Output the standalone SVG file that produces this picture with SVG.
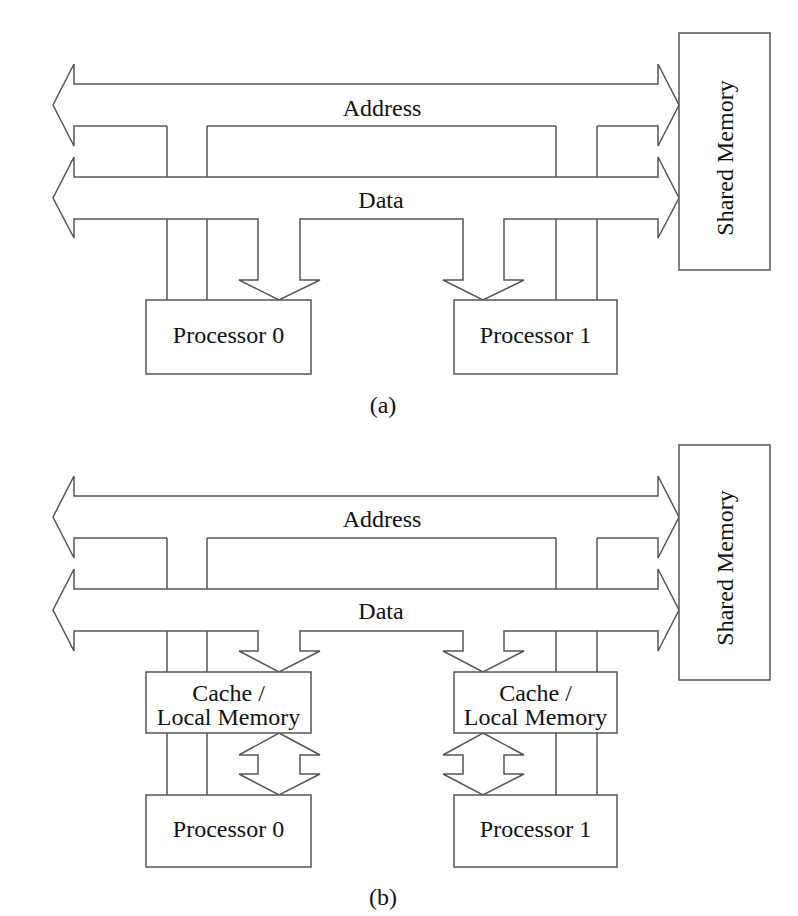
<svg xmlns="http://www.w3.org/2000/svg" width="798" height="916" viewBox="0 0 798 916">
<style>
.ln{fill:none;stroke:#555;stroke-width:1.5;stroke-linejoin:miter}
.bx{fill:#fff;stroke:#555;stroke-width:1.5}
.t{font-family:"Liberation Serif","Times New Roman",serif;font-size:24px;fill:#111;text-anchor:middle}
</style>
<rect width="798" height="916" fill="#fff"/>
<g id="connectors">
<!-- (a) address bus -->
<path class="ln" d="M167,126 L74,126 L74,146 L53,105 L74,64 L74,84 L658,84 L658,64 L679,105 L658,146 L658,126 L597,126 M556,126 L207,126"/>
<!-- (a) data bus -->
<path class="ln" d="M258,219 L74,219 L74,238 L53,198 L74,157 L74,177 L658,177 L658,157 L679,198 L658,238 L658,219 L504,219 L504,280 L524,280 L483,300 L443,280 L463,280 L463,219 L300,219 L300,280 L320,280 L279,300 L239,280 L258,280 Z"/>
<!-- (a) stems -->
<path class="ln" d="M167,126 V177 M207,126 V177 M556,126 V177 M597,126 V177 M167,219 V300 M207,219 V300 M556,219 V300 M597,219 V300"/>
<!-- (b) address bus -->
<path class="ln" d="M167,538 L74,538 L74,558 L53,517 L74,476 L74,496 L658,496 L658,476 L679,517 L658,558 L658,538 L597,538 M556,538 L207,538"/>
<!-- (b) data bus -->
<path class="ln" d="M258,631 L74,631 L74,651 L53,610 L74,569 L74,589 L658,589 L658,569 L679,610 L658,651 L658,631 L504,631 L504,651 L524,651 L483,672 L443,651 L463,651 L463,631 L300,631 L300,651 L320,651 L279,672 L239,651 L258,651 Z"/>
<!-- (b) stems -->
<path class="ln" d="M167,538 V589 M207,538 V589 M556,538 V589 M597,538 V589 M167,631 V672 M207,631 V672 M556,631 V672 M597,631 V672 M167,733 V795 M207,733 V795 M556,733 V795 M597,733 V795"/>
<!-- (b) cache-processor bidirectional -->
<path class="ln" d="M279,733 L320,755 L300,755 L300,774 L320,774 L279,795 L239,774 L258,774 L258,755 L239,755 Z"/>
<path class="ln" d="M483,733 L524,755 L504,755 L504,774 L524,774 L483,795 L443,774 L463,774 L463,755 L443,755 Z"/>
</g>
<g id="labels">
<text class="t" x="382" y="116">Address</text>
<text class="t" x="381" y="208">Data</text>
<text class="t" x="382" y="527">Address</text>
<text class="t" x="381" y="619">Data</text>
<text class="t" x="383" y="413">(a)</text>
<text class="t" x="383" y="905">(b)</text>
</g>
<g id="shared-memory-a">
<rect class="bx" x="679" y="33" width="91" height="237"/>
<text class="t" transform="translate(733,158) rotate(-90)">Shared Memory</text>
</g>
<g id="processor0-a">
<rect class="bx" x="146" y="300" width="165" height="74"/>
<text class="t" x="228.5" y="343">Processor 0</text>
</g>
<g id="processor1-a">
<rect class="bx" x="454" y="300" width="163" height="74"/>
<text class="t" x="535.5" y="343">Processor 1</text>
</g>
<g id="shared-memory-b">
<rect class="bx" x="679" y="445" width="91" height="235"/>
<text class="t" transform="translate(733,568) rotate(-90)">Shared Memory</text>
</g>
<g id="cache0-b">
<rect class="bx" x="146" y="672" width="165" height="61"/>
<text class="t" x="228.5" y="701">Cache /</text>
<text class="t" x="228.5" y="725">Local Memory</text>
</g>
<g id="cache1-b">
<rect class="bx" x="454" y="672" width="163" height="61"/>
<text class="t" x="535.5" y="701">Cache /</text>
<text class="t" x="535.5" y="725">Local Memory</text>
</g>
<g id="processor0-b">
<rect class="bx" x="146" y="795" width="165" height="72"/>
<text class="t" x="228.5" y="837">Processor 0</text>
</g>
<g id="processor1-b">
<rect class="bx" x="454" y="795" width="163" height="72"/>
<text class="t" x="535.5" y="837">Processor 1</text>
</g>
</svg>
